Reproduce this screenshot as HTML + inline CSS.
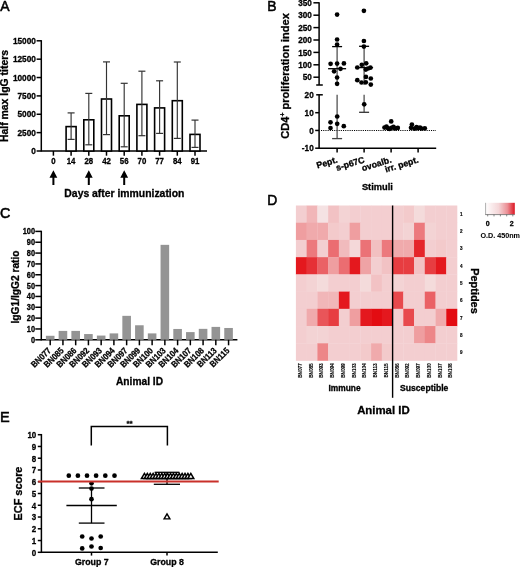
<!DOCTYPE html>
<html><head><meta charset="utf-8"><style>
html,body{margin:0;padding:0;background:#fff;}
body{width:520px;height:567px;overflow:hidden;}
svg{display:block;font-family:"Liberation Sans", sans-serif;filter:blur(0.4px);}
</style></head><body>
<svg width="520" height="567" viewBox="0 0 520 567">
<rect x="0" y="0" width="520" height="567" fill="#fff"/>
<text transform="translate(0.2 10.6) scale(0.93 1)" font-size="15" fill="#000" stroke="#000" stroke-width="0.55">A</text>
<text transform="translate(267.2 10.8) scale(0.93 1)" font-size="15" fill="#000" stroke="#000" stroke-width="0.55">B</text>
<text transform="translate(-0.1 218.4) scale(0.93 1)" font-size="15.4" fill="#000" stroke="#000" stroke-width="0.55">C</text>
<text transform="translate(267.3 204.5) scale(0.97 1)" font-size="14.3" fill="#000" stroke="#000" stroke-width="0.55">D</text>
<text transform="translate(0 422.1) scale(0.97 1)" font-size="15" fill="#000" stroke="#000" stroke-width="0.55">E</text>
<line x1="41.3" y1="40.15" x2="41.3" y2="151.65" stroke="#000" stroke-width="1.5" />
<line x1="36.6" y1="151" x2="41.3" y2="151" stroke="#000" stroke-width="1.5" />
<text transform="translate(35.9 154.1) scale(0.93 1)" font-size="8.9" text-anchor="end" font-weight="bold" fill="#000" stroke="#000" stroke-width="0.3">0</text>
<line x1="36.6" y1="132.63" x2="41.3" y2="132.63" stroke="#000" stroke-width="1.5" />
<text transform="translate(35.9 135.73) scale(0.93 1)" font-size="8.9" text-anchor="end" font-weight="bold" fill="#000" stroke="#000" stroke-width="0.3">2500</text>
<line x1="36.6" y1="114.27" x2="41.3" y2="114.27" stroke="#000" stroke-width="1.5" />
<text transform="translate(35.9 117.37) scale(0.93 1)" font-size="8.9" text-anchor="end" font-weight="bold" fill="#000" stroke="#000" stroke-width="0.3">5000</text>
<line x1="36.6" y1="95.9" x2="41.3" y2="95.9" stroke="#000" stroke-width="1.5" />
<text transform="translate(35.9 99) scale(0.93 1)" font-size="8.9" text-anchor="end" font-weight="bold" fill="#000" stroke="#000" stroke-width="0.3">7500</text>
<line x1="36.6" y1="77.53" x2="41.3" y2="77.53" stroke="#000" stroke-width="1.5" />
<text transform="translate(35.9 80.63) scale(0.93 1)" font-size="8.9" text-anchor="end" font-weight="bold" fill="#000" stroke="#000" stroke-width="0.3">10000</text>
<line x1="36.6" y1="59.17" x2="41.3" y2="59.17" stroke="#000" stroke-width="1.5" />
<text transform="translate(35.9 62.27) scale(0.93 1)" font-size="8.9" text-anchor="end" font-weight="bold" fill="#000" stroke="#000" stroke-width="0.3">12500</text>
<line x1="36.6" y1="40.8" x2="41.3" y2="40.8" stroke="#000" stroke-width="1.5" />
<text transform="translate(35.9 43.9) scale(0.93 1)" font-size="8.9" text-anchor="end" font-weight="bold" fill="#000" stroke="#000" stroke-width="0.3">15000</text>
<line x1="41.3" y1="151" x2="207" y2="151" stroke="#000" stroke-width="1.5" />
<line x1="53.4" y1="151" x2="53.4" y2="155.7" stroke="#000" stroke-width="1.5" />
<text transform="translate(53.4 163.7) scale(0.88 1)" font-size="8.9" text-anchor="middle" font-weight="bold" fill="#000" stroke="#000" stroke-width="0.3">0</text>
<line x1="71.1" y1="151" x2="71.1" y2="155.7" stroke="#000" stroke-width="1.5" />
<text transform="translate(71.1 163.7) scale(0.88 1)" font-size="8.9" text-anchor="middle" font-weight="bold" fill="#000" stroke="#000" stroke-width="0.3">14</text>
<line x1="88.8" y1="151" x2="88.8" y2="155.7" stroke="#000" stroke-width="1.5" />
<text transform="translate(88.8 163.7) scale(0.88 1)" font-size="8.9" text-anchor="middle" font-weight="bold" fill="#000" stroke="#000" stroke-width="0.3">28</text>
<line x1="106.5" y1="151" x2="106.5" y2="155.7" stroke="#000" stroke-width="1.5" />
<text transform="translate(106.5 163.7) scale(0.88 1)" font-size="8.9" text-anchor="middle" font-weight="bold" fill="#000" stroke="#000" stroke-width="0.3">42</text>
<line x1="124.2" y1="151" x2="124.2" y2="155.7" stroke="#000" stroke-width="1.5" />
<text transform="translate(124.2 163.7) scale(0.88 1)" font-size="8.9" text-anchor="middle" font-weight="bold" fill="#000" stroke="#000" stroke-width="0.3">56</text>
<line x1="141.9" y1="151" x2="141.9" y2="155.7" stroke="#000" stroke-width="1.5" />
<text transform="translate(141.9 163.7) scale(0.88 1)" font-size="8.9" text-anchor="middle" font-weight="bold" fill="#000" stroke="#000" stroke-width="0.3">70</text>
<line x1="159.6" y1="151" x2="159.6" y2="155.7" stroke="#000" stroke-width="1.5" />
<text transform="translate(159.6 163.7) scale(0.88 1)" font-size="8.9" text-anchor="middle" font-weight="bold" fill="#000" stroke="#000" stroke-width="0.3">77</text>
<line x1="177.3" y1="151" x2="177.3" y2="155.7" stroke="#000" stroke-width="1.5" />
<text transform="translate(177.3 163.7) scale(0.88 1)" font-size="8.9" text-anchor="middle" font-weight="bold" fill="#000" stroke="#000" stroke-width="0.3">84</text>
<line x1="195" y1="151" x2="195" y2="155.7" stroke="#000" stroke-width="1.5" />
<text transform="translate(195 163.7) scale(0.88 1)" font-size="8.9" text-anchor="middle" font-weight="bold" fill="#000" stroke="#000" stroke-width="0.3">91</text>
<rect x="66.1" y="126.6" width="10" height="24.4" fill="#fff" stroke="#000" stroke-width="1.6"/>
<rect x="83.8" y="119.8" width="10" height="31.2" fill="#fff" stroke="#000" stroke-width="1.6"/>
<rect x="101.5" y="99" width="10" height="52" fill="#fff" stroke="#000" stroke-width="1.6"/>
<rect x="119.2" y="115.8" width="10" height="35.2" fill="#fff" stroke="#000" stroke-width="1.6"/>
<rect x="136.9" y="104.4" width="10" height="46.6" fill="#fff" stroke="#000" stroke-width="1.6"/>
<rect x="154.6" y="107.9" width="10" height="43.1" fill="#fff" stroke="#000" stroke-width="1.6"/>
<rect x="172.3" y="100.7" width="10" height="50.3" fill="#fff" stroke="#000" stroke-width="1.6"/>
<rect x="190" y="134.4" width="10" height="16.6" fill="#fff" stroke="#000" stroke-width="1.6"/>
<line x1="71.1" y1="112.9" x2="71.1" y2="139.4" stroke="#333" stroke-width="1.15" />
<line x1="67.6" y1="112.9" x2="74.6" y2="112.9" stroke="#333" stroke-width="1.2" />
<line x1="67.6" y1="139.4" x2="74.6" y2="139.4" stroke="#333" stroke-width="1.2" />
<line x1="88.8" y1="93.4" x2="88.8" y2="144.8" stroke="#333" stroke-width="1.15" />
<line x1="85.3" y1="93.4" x2="92.3" y2="93.4" stroke="#333" stroke-width="1.2" />
<line x1="85.3" y1="144.8" x2="92.3" y2="144.8" stroke="#333" stroke-width="1.2" />
<line x1="106.5" y1="61.9" x2="106.5" y2="134.6" stroke="#333" stroke-width="1.15" />
<line x1="103" y1="61.9" x2="110" y2="61.9" stroke="#333" stroke-width="1.2" />
<line x1="103" y1="134.6" x2="110" y2="134.6" stroke="#333" stroke-width="1.2" />
<line x1="124.2" y1="83.3" x2="124.2" y2="146.8" stroke="#333" stroke-width="1.15" />
<line x1="120.7" y1="83.3" x2="127.7" y2="83.3" stroke="#333" stroke-width="1.2" />
<line x1="120.7" y1="146.8" x2="127.7" y2="146.8" stroke="#333" stroke-width="1.2" />
<line x1="141.9" y1="71.2" x2="141.9" y2="135.7" stroke="#333" stroke-width="1.15" />
<line x1="138.4" y1="71.2" x2="145.4" y2="71.2" stroke="#333" stroke-width="1.2" />
<line x1="138.4" y1="135.7" x2="145.4" y2="135.7" stroke="#333" stroke-width="1.2" />
<line x1="159.6" y1="80.8" x2="159.6" y2="133.4" stroke="#333" stroke-width="1.15" />
<line x1="156.1" y1="80.8" x2="163.1" y2="80.8" stroke="#333" stroke-width="1.2" />
<line x1="156.1" y1="133.4" x2="163.1" y2="133.4" stroke="#333" stroke-width="1.2" />
<line x1="177.3" y1="62" x2="177.3" y2="138.4" stroke="#333" stroke-width="1.15" />
<line x1="173.8" y1="62" x2="180.8" y2="62" stroke="#333" stroke-width="1.2" />
<line x1="173.8" y1="138.4" x2="180.8" y2="138.4" stroke="#333" stroke-width="1.2" />
<line x1="195" y1="120.1" x2="195" y2="147.4" stroke="#333" stroke-width="1.15" />
<line x1="191.5" y1="120.1" x2="198.5" y2="120.1" stroke="#333" stroke-width="1.2" />
<line x1="191.5" y1="147.4" x2="198.5" y2="147.4" stroke="#333" stroke-width="1.2" />
<path d="M53.4 170.3 L49.5 177.8 L52.4 177.8 L52.4 184.9 L54.4 184.9 L54.4 177.8 L57.3 177.8 Z" fill="#000"/>
<path d="M88.8 170.3 L84.9 177.8 L87.8 177.8 L87.8 184.9 L89.8 184.9 L89.8 177.8 L92.7 177.8 Z" fill="#000"/>
<path d="M124.2 170.3 L120.3 177.8 L123.2 177.8 L123.2 184.9 L125.2 184.9 L125.2 177.8 L128.1 177.8 Z" fill="#000"/>
<text x="124.4" y="196.9" font-size="10.4" text-anchor="middle" font-weight="bold" fill="#000" stroke="#000" stroke-width="0.3" >Days after immunization</text>
<text x="0" y="0" font-size="10.45" text-anchor="middle" font-weight="bold" fill="#000" stroke="#000" stroke-width="0.3" transform="translate(8.0 96.0) rotate(-90)">Half max IgG titers</text>
<line x1="319.1" y1="2.15" x2="319.1" y2="85" stroke="#000" stroke-width="1.5" />
<line x1="313.4" y1="77.2" x2="319.1" y2="77.2" stroke="#000" stroke-width="1.5" />
<text transform="translate(311.9 80.3) scale(0.92 1)" font-size="8.9" text-anchor="end" font-weight="bold" fill="#000" stroke="#000" stroke-width="0.3">50</text>
<line x1="313.4" y1="64.8" x2="319.1" y2="64.8" stroke="#000" stroke-width="1.5" />
<text transform="translate(311.9 67.9) scale(0.92 1)" font-size="8.9" text-anchor="end" font-weight="bold" fill="#000" stroke="#000" stroke-width="0.3">100</text>
<line x1="313.4" y1="52.4" x2="319.1" y2="52.4" stroke="#000" stroke-width="1.5" />
<text transform="translate(311.9 55.5) scale(0.92 1)" font-size="8.9" text-anchor="end" font-weight="bold" fill="#000" stroke="#000" stroke-width="0.3">150</text>
<line x1="313.4" y1="40" x2="319.1" y2="40" stroke="#000" stroke-width="1.5" />
<text transform="translate(311.9 43.1) scale(0.92 1)" font-size="8.9" text-anchor="end" font-weight="bold" fill="#000" stroke="#000" stroke-width="0.3">200</text>
<line x1="313.4" y1="27.6" x2="319.1" y2="27.6" stroke="#000" stroke-width="1.5" />
<text transform="translate(311.9 30.7) scale(0.92 1)" font-size="8.9" text-anchor="end" font-weight="bold" fill="#000" stroke="#000" stroke-width="0.3">250</text>
<line x1="313.4" y1="15.2" x2="319.1" y2="15.2" stroke="#000" stroke-width="1.5" />
<text transform="translate(311.9 18.3) scale(0.92 1)" font-size="8.9" text-anchor="end" font-weight="bold" fill="#000" stroke="#000" stroke-width="0.3">300</text>
<line x1="313.4" y1="2.8" x2="319.1" y2="2.8" stroke="#000" stroke-width="1.5" />
<text transform="translate(311.9 5.9) scale(0.92 1)" font-size="8.9" text-anchor="end" font-weight="bold" fill="#000" stroke="#000" stroke-width="0.3">350</text>
<line x1="316.2" y1="85" x2="322.8" y2="85" stroke="#000" stroke-width="1.5" />
<line x1="319.1" y1="94.8" x2="319.1" y2="148.85" stroke="#000" stroke-width="1.5" />
<line x1="316.2" y1="94.8" x2="322.8" y2="94.8" stroke="#000" stroke-width="1.5" />
<text transform="translate(313.7 97.9) scale(0.92 1)" font-size="8.9" text-anchor="end" font-weight="bold" fill="#000" stroke="#000" stroke-width="0.3">20</text>
<line x1="315.2" y1="112.7" x2="319.1" y2="112.7" stroke="#000" stroke-width="1.5" />
<text transform="translate(313.7 115.8) scale(0.92 1)" font-size="8.9" text-anchor="end" font-weight="bold" fill="#000" stroke="#000" stroke-width="0.3">10</text>
<line x1="315.2" y1="130.45" x2="319.1" y2="130.45" stroke="#000" stroke-width="1.5" />
<text transform="translate(313.7 133.55) scale(0.92 1)" font-size="8.9" text-anchor="end" font-weight="bold" fill="#000" stroke="#000" stroke-width="0.3">0</text>
<line x1="315.2" y1="148.2" x2="319.1" y2="148.2" stroke="#000" stroke-width="1.5" />
<text transform="translate(313.7 151.3) scale(0.92 1)" font-size="8.9" text-anchor="end" font-weight="bold" fill="#000" stroke="#000" stroke-width="0.3">-10</text>
<line x1="319.1" y1="148.2" x2="436.2" y2="148.2" stroke="#000" stroke-width="1.5" />
<line x1="337.1" y1="148.2" x2="337.1" y2="152.6" stroke="#000" stroke-width="1.5" />
<line x1="364.1" y1="148.2" x2="364.1" y2="152.6" stroke="#000" stroke-width="1.5" />
<line x1="391.1" y1="148.2" x2="391.1" y2="152.6" stroke="#000" stroke-width="1.5" />
<line x1="418.1" y1="148.2" x2="418.1" y2="152.6" stroke="#000" stroke-width="1.5" />
<line x1="321" y1="130.45" x2="436" y2="130.45" stroke="#000" stroke-width="1.1" stroke-dasharray="1.1 1.1"/>
<line x1="337.1" y1="46.6" x2="337.1" y2="85" stroke="#444" stroke-width="1.2" />
<line x1="337.1" y1="94.8" x2="337.1" y2="138.6" stroke="#444" stroke-width="1.2" />
<line x1="332.1" y1="46.6" x2="342.1" y2="46.6" stroke="#000" stroke-width="1.3" />
<line x1="332.1" y1="138.6" x2="342.1" y2="138.6" stroke="#444" stroke-width="1.3" />
<line x1="328.1" y1="68.7" x2="346.1" y2="68.7" stroke="#000" stroke-width="1.3" />
<circle cx="337.1" cy="14.6" r="2.35" fill="#000"/>
<circle cx="337.1" cy="39.5" r="2.35" fill="#000"/>
<circle cx="337.1" cy="44.6" r="2.35" fill="#000"/>
<circle cx="330.6" cy="63.8" r="2.35" fill="#000"/>
<circle cx="337.1" cy="63.6" r="2.35" fill="#000"/>
<circle cx="343.9" cy="63.4" r="2.35" fill="#000"/>
<circle cx="340.5" cy="68.8" r="2.35" fill="#000"/>
<circle cx="334.1" cy="71.3" r="2.35" fill="#000"/>
<circle cx="337.1" cy="77.5" r="2.35" fill="#000"/>
<circle cx="337.1" cy="83.8" r="2.35" fill="#000"/>
<circle cx="337.2" cy="116.5" r="2.35" fill="#000"/>
<circle cx="330.5" cy="122.3" r="2.35" fill="#000"/>
<circle cx="337.2" cy="123.8" r="2.35" fill="#000"/>
<circle cx="343.8" cy="126.2" r="2.35" fill="#000"/>
<circle cx="330.5" cy="128" r="2.35" fill="#000"/>
<line x1="364.1" y1="46.3" x2="364.1" y2="85" stroke="#444" stroke-width="1.2" />
<line x1="364.1" y1="94.8" x2="364.1" y2="112.3" stroke="#444" stroke-width="1.2" />
<line x1="359.1" y1="46.3" x2="369.1" y2="46.3" stroke="#000" stroke-width="1.3" />
<line x1="359.1" y1="112.3" x2="369.1" y2="112.3" stroke="#333" stroke-width="1.3" />
<line x1="355.1" y1="67.6" x2="373.1" y2="67.6" stroke="#000" stroke-width="1.3" />
<circle cx="363.9" cy="10.8" r="2.35" fill="#000"/>
<circle cx="363.9" cy="41" r="2.35" fill="#000"/>
<circle cx="363.9" cy="46.6" r="2.35" fill="#000"/>
<circle cx="361.8" cy="64.8" r="2.35" fill="#000"/>
<circle cx="366.2" cy="63.3" r="2.35" fill="#000"/>
<circle cx="357.3" cy="67.5" r="2.35" fill="#000"/>
<circle cx="365.8" cy="69.6" r="2.35" fill="#000"/>
<circle cx="370.4" cy="67.7" r="2.35" fill="#000"/>
<circle cx="368" cy="68.5" r="2.35" fill="#000"/>
<circle cx="365.9" cy="76.9" r="2.35" fill="#000"/>
<circle cx="370.8" cy="78.5" r="2.35" fill="#000"/>
<circle cx="357.3" cy="80.2" r="2.35" fill="#000"/>
<circle cx="361.5" cy="82.5" r="2.35" fill="#000"/>
<circle cx="365.8" cy="82.3" r="2.35" fill="#000"/>
<circle cx="370.8" cy="84.6" r="2.35" fill="#000"/>
<circle cx="364.2" cy="104.3" r="2.35" fill="#000"/>
<circle cx="391.2" cy="121.4" r="2.35" fill="#000"/>
<circle cx="384.5" cy="127.6" r="2.35" fill="#000"/>
<circle cx="388" cy="128.3" r="2.35" fill="#000"/>
<circle cx="391.5" cy="127.8" r="2.35" fill="#000"/>
<circle cx="395" cy="128.4" r="2.35" fill="#000"/>
<circle cx="397.8" cy="127.9" r="2.35" fill="#000"/>
<circle cx="386.5" cy="126.6" r="2.35" fill="#000"/>
<circle cx="393.5" cy="126.8" r="2.35" fill="#000"/>
<circle cx="389.5" cy="129" r="2.35" fill="#000"/>
<circle cx="411.9" cy="124.6" r="2.35" fill="#000"/>
<circle cx="411" cy="127.8" r="2.35" fill="#000"/>
<circle cx="414.5" cy="128.6" r="2.35" fill="#000"/>
<circle cx="418" cy="128.2" r="2.35" fill="#000"/>
<circle cx="421.5" cy="128.5" r="2.35" fill="#000"/>
<circle cx="424.8" cy="128.3" r="2.35" fill="#000"/>
<circle cx="416.5" cy="127" r="2.35" fill="#000"/>
<circle cx="420" cy="127.5" r="2.35" fill="#000"/>
<text transform="translate(338.1 162.3) rotate(-17)" font-size="8.8" text-anchor="end" font-weight="bold" fill="#000" stroke="#000" stroke-width="0.3">Pept.</text>
<text transform="translate(365.1 162.3) rotate(-17)" font-size="8.8" text-anchor="end" font-weight="bold" fill="#000" stroke="#000" stroke-width="0.3">s-p67C</text>
<text transform="translate(392.1 162.3) rotate(-17)" font-size="8.8" text-anchor="end" font-weight="bold" fill="#000" stroke="#000" stroke-width="0.3">ovoalb.</text>
<text transform="translate(419.1 162.3) rotate(-17)" font-size="8.8" text-anchor="end" font-weight="bold" fill="#000" stroke="#000" stroke-width="0.3">irr. pept.</text>
<text x="377.4" y="189.8" font-size="9.3" text-anchor="middle" font-weight="bold" fill="#000" stroke="#000" stroke-width="0.3" >Stimuli</text>
<text x="0" y="0" font-size="11.05" text-anchor="middle" font-weight="bold" fill="#000" stroke="#000" stroke-width="0.3" transform="translate(289.4 75.9) rotate(-90)">CD4<tspan font-size="6.8" dy="-4.4">+</tspan><tspan dy="4.4"> proliferation index</tspan></text>
<line x1="41.3" y1="230.75" x2="41.3" y2="340.45" stroke="#000" stroke-width="1.5" />
<line x1="35.3" y1="339.8" x2="41.3" y2="339.8" stroke="#000" stroke-width="1.5" />
<text transform="translate(35 342.7) scale(0.9 1)" font-size="8.2" text-anchor="end" font-weight="bold" fill="#000" stroke="#000" stroke-width="0.3">0</text>
<line x1="35.3" y1="328.96" x2="41.3" y2="328.96" stroke="#000" stroke-width="1.5" />
<text transform="translate(35 331.86) scale(0.9 1)" font-size="8.2" text-anchor="end" font-weight="bold" fill="#000" stroke="#000" stroke-width="0.3">10</text>
<line x1="35.3" y1="318.12" x2="41.3" y2="318.12" stroke="#000" stroke-width="1.5" />
<text transform="translate(35 321.02) scale(0.9 1)" font-size="8.2" text-anchor="end" font-weight="bold" fill="#000" stroke="#000" stroke-width="0.3">20</text>
<line x1="35.3" y1="307.28" x2="41.3" y2="307.28" stroke="#000" stroke-width="1.5" />
<text transform="translate(35 310.18) scale(0.9 1)" font-size="8.2" text-anchor="end" font-weight="bold" fill="#000" stroke="#000" stroke-width="0.3">30</text>
<line x1="35.3" y1="296.44" x2="41.3" y2="296.44" stroke="#000" stroke-width="1.5" />
<text transform="translate(35 299.34) scale(0.9 1)" font-size="8.2" text-anchor="end" font-weight="bold" fill="#000" stroke="#000" stroke-width="0.3">40</text>
<line x1="35.3" y1="285.6" x2="41.3" y2="285.6" stroke="#000" stroke-width="1.5" />
<text transform="translate(35 288.5) scale(0.9 1)" font-size="8.2" text-anchor="end" font-weight="bold" fill="#000" stroke="#000" stroke-width="0.3">50</text>
<line x1="35.3" y1="274.76" x2="41.3" y2="274.76" stroke="#000" stroke-width="1.5" />
<text transform="translate(35 277.66) scale(0.9 1)" font-size="8.2" text-anchor="end" font-weight="bold" fill="#000" stroke="#000" stroke-width="0.3">60</text>
<line x1="35.3" y1="263.92" x2="41.3" y2="263.92" stroke="#000" stroke-width="1.5" />
<text transform="translate(35 266.82) scale(0.9 1)" font-size="8.2" text-anchor="end" font-weight="bold" fill="#000" stroke="#000" stroke-width="0.3">70</text>
<line x1="35.3" y1="253.08" x2="41.3" y2="253.08" stroke="#000" stroke-width="1.5" />
<text transform="translate(35 255.98) scale(0.9 1)" font-size="8.2" text-anchor="end" font-weight="bold" fill="#000" stroke="#000" stroke-width="0.3">80</text>
<line x1="35.3" y1="242.24" x2="41.3" y2="242.24" stroke="#000" stroke-width="1.5" />
<text transform="translate(35 245.14) scale(0.9 1)" font-size="8.2" text-anchor="end" font-weight="bold" fill="#000" stroke="#000" stroke-width="0.3">90</text>
<line x1="35.3" y1="231.4" x2="41.3" y2="231.4" stroke="#000" stroke-width="1.5" />
<text transform="translate(35 234.3) scale(0.9 1)" font-size="8.2" text-anchor="end" font-weight="bold" fill="#000" stroke="#000" stroke-width="0.3">100</text>
<line x1="41.3" y1="339.8" x2="237.4" y2="339.8" stroke="#000" stroke-width="1.5" />
<rect x="45.9" y="335.79" width="8.6" height="4.01" fill="#949494"/>
<line x1="50.2" y1="339.8" x2="50.2" y2="345.3" stroke="#000" stroke-width="1.5" />
<text transform="translate(51.6 351.1) rotate(-45) scale(0.88 1)" font-size="8.8" text-anchor="end" font-weight="bold" fill="#000" stroke="#000" stroke-width="0.3">BN077</text>
<rect x="58.64" y="330.91" width="8.6" height="8.89" fill="#949494"/>
<line x1="62.94" y1="339.8" x2="62.94" y2="345.3" stroke="#000" stroke-width="1.5" />
<text transform="translate(64.34 351.1) rotate(-45) scale(0.88 1)" font-size="8.8" text-anchor="end" font-weight="bold" fill="#000" stroke="#000" stroke-width="0.3">BN085</text>
<rect x="71.38" y="330.91" width="8.6" height="8.89" fill="#949494"/>
<line x1="75.68" y1="339.8" x2="75.68" y2="345.3" stroke="#000" stroke-width="1.5" />
<text transform="translate(77.08 351.1) rotate(-45) scale(0.88 1)" font-size="8.8" text-anchor="end" font-weight="bold" fill="#000" stroke="#000" stroke-width="0.3">BN086</text>
<rect x="84.12" y="334.05" width="8.6" height="5.75" fill="#949494"/>
<line x1="88.42" y1="339.8" x2="88.42" y2="345.3" stroke="#000" stroke-width="1.5" />
<text transform="translate(89.82 351.1) rotate(-45) scale(0.88 1)" font-size="8.8" text-anchor="end" font-weight="bold" fill="#000" stroke="#000" stroke-width="0.3">BN092</text>
<rect x="96.86" y="335.57" width="8.6" height="4.23" fill="#949494"/>
<line x1="101.16" y1="339.8" x2="101.16" y2="345.3" stroke="#000" stroke-width="1.5" />
<text transform="translate(102.56 351.1) rotate(-45) scale(0.88 1)" font-size="8.8" text-anchor="end" font-weight="bold" fill="#000" stroke="#000" stroke-width="0.3">BN093</text>
<rect x="109.6" y="333.4" width="8.6" height="6.4" fill="#949494"/>
<line x1="113.9" y1="339.8" x2="113.9" y2="345.3" stroke="#000" stroke-width="1.5" />
<text transform="translate(115.3 351.1) rotate(-45) scale(0.88 1)" font-size="8.8" text-anchor="end" font-weight="bold" fill="#000" stroke="#000" stroke-width="0.3">BN094</text>
<rect x="122.34" y="315.84" width="8.6" height="23.96" fill="#949494"/>
<line x1="126.64" y1="339.8" x2="126.64" y2="345.3" stroke="#000" stroke-width="1.5" />
<text transform="translate(128.04 351.1) rotate(-45) scale(0.88 1)" font-size="8.8" text-anchor="end" font-weight="bold" fill="#000" stroke="#000" stroke-width="0.3">BN097</text>
<rect x="135.08" y="325.27" width="8.6" height="14.53" fill="#949494"/>
<line x1="139.38" y1="339.8" x2="139.38" y2="345.3" stroke="#000" stroke-width="1.5" />
<text transform="translate(140.78 351.1) rotate(-45) scale(0.88 1)" font-size="8.8" text-anchor="end" font-weight="bold" fill="#000" stroke="#000" stroke-width="0.3">BN099</text>
<rect x="147.82" y="333.4" width="8.6" height="6.4" fill="#949494"/>
<line x1="152.12" y1="339.8" x2="152.12" y2="345.3" stroke="#000" stroke-width="1.5" />
<text transform="translate(153.52 351.1) rotate(-45) scale(0.88 1)" font-size="8.8" text-anchor="end" font-weight="bold" fill="#000" stroke="#000" stroke-width="0.3">BN100</text>
<rect x="160.56" y="244.84" width="8.6" height="94.96" fill="#949494"/>
<line x1="164.86" y1="339.8" x2="164.86" y2="345.3" stroke="#000" stroke-width="1.5" />
<text transform="translate(166.26 351.1) rotate(-45) scale(0.88 1)" font-size="8.8" text-anchor="end" font-weight="bold" fill="#000" stroke="#000" stroke-width="0.3">BN103</text>
<rect x="173.3" y="328.96" width="8.6" height="10.84" fill="#949494"/>
<line x1="177.6" y1="339.8" x2="177.6" y2="345.3" stroke="#000" stroke-width="1.5" />
<text transform="translate(179 351.1) rotate(-45) scale(0.88 1)" font-size="8.8" text-anchor="end" font-weight="bold" fill="#000" stroke="#000" stroke-width="0.3">BN104</text>
<rect x="186.04" y="332.1" width="8.6" height="7.7" fill="#949494"/>
<line x1="190.34" y1="339.8" x2="190.34" y2="345.3" stroke="#000" stroke-width="1.5" />
<text transform="translate(191.74 351.1) rotate(-45) scale(0.88 1)" font-size="8.8" text-anchor="end" font-weight="bold" fill="#000" stroke="#000" stroke-width="0.3">BN107</text>
<rect x="198.78" y="328.85" width="8.6" height="10.95" fill="#949494"/>
<line x1="203.08" y1="339.8" x2="203.08" y2="345.3" stroke="#000" stroke-width="1.5" />
<text transform="translate(204.48 351.1) rotate(-45) scale(0.88 1)" font-size="8.8" text-anchor="end" font-weight="bold" fill="#000" stroke="#000" stroke-width="0.3">BN108</text>
<rect x="211.52" y="326.9" width="8.6" height="12.9" fill="#949494"/>
<line x1="215.82" y1="339.8" x2="215.82" y2="345.3" stroke="#000" stroke-width="1.5" />
<text transform="translate(217.22 351.1) rotate(-45) scale(0.88 1)" font-size="8.8" text-anchor="end" font-weight="bold" fill="#000" stroke="#000" stroke-width="0.3">BN113</text>
<rect x="224.26" y="327.98" width="8.6" height="11.82" fill="#949494"/>
<line x1="228.56" y1="339.8" x2="228.56" y2="345.3" stroke="#000" stroke-width="1.5" />
<text transform="translate(229.96 351.1) rotate(-45) scale(0.88 1)" font-size="8.8" text-anchor="end" font-weight="bold" fill="#000" stroke="#000" stroke-width="0.3">BN115</text>
<text x="139.5" y="384.6" font-size="10.2" text-anchor="middle" font-weight="bold" fill="#000" stroke="#000" stroke-width="0.3" >Animal ID</text>
<text x="0" y="0" font-size="10.2" text-anchor="middle" font-weight="bold" fill="#000" stroke="#000" stroke-width="0.3" transform="translate(19.0 287.0) rotate(-90)">IgG1/IgG2 ratio</text>
<rect x="295.9" y="205.5" width="11.04" height="17.52" fill="#f3ced0"/>
<rect x="306.64" y="205.5" width="11.04" height="17.52" fill="#f1b6b8"/>
<rect x="317.38" y="205.5" width="11.04" height="17.52" fill="#f5e2e3"/>
<rect x="328.12" y="205.5" width="11.04" height="17.52" fill="#f2c2c4"/>
<rect x="338.86" y="205.5" width="11.04" height="17.52" fill="#f3d3d4"/>
<rect x="349.6" y="205.5" width="11.04" height="17.52" fill="#f3ced0"/>
<rect x="360.34" y="205.5" width="11.04" height="17.52" fill="#f3ced0"/>
<rect x="371.08" y="205.5" width="11.04" height="17.52" fill="#f3ced0"/>
<rect x="381.82" y="205.5" width="11.04" height="17.52" fill="#f3ced0"/>
<rect x="392.56" y="205.5" width="11.04" height="17.52" fill="#f3ced0"/>
<rect x="403.3" y="205.5" width="11.04" height="17.52" fill="#f3cacb"/>
<rect x="414.04" y="205.5" width="11.04" height="17.52" fill="#f4dbdb"/>
<rect x="424.78" y="205.5" width="11.04" height="17.52" fill="#f3ced0"/>
<rect x="435.52" y="205.5" width="11.04" height="17.52" fill="#f3ced0"/>
<rect x="446.26" y="205.5" width="11.04" height="17.52" fill="#f3ced0"/>
<rect x="295.9" y="222.72" width="11.04" height="17.52" fill="#ef9ea0"/>
<rect x="306.64" y="222.72" width="11.04" height="17.52" fill="#f0aaac"/>
<rect x="317.38" y="222.72" width="11.04" height="17.52" fill="#f0aaac"/>
<rect x="328.12" y="222.72" width="11.04" height="17.52" fill="#f3cacb"/>
<rect x="338.86" y="222.72" width="11.04" height="17.52" fill="#f3ced0"/>
<rect x="349.6" y="222.72" width="11.04" height="17.52" fill="#ef9ea0"/>
<rect x="360.34" y="222.72" width="11.04" height="17.52" fill="#f3ced0"/>
<rect x="371.08" y="222.72" width="11.04" height="17.52" fill="#f3ced0"/>
<rect x="381.82" y="222.72" width="11.04" height="17.52" fill="#f3ced0"/>
<rect x="392.56" y="222.72" width="11.04" height="17.52" fill="#f3ced0"/>
<rect x="403.3" y="222.72" width="11.04" height="17.52" fill="#f3d3d4"/>
<rect x="414.04" y="222.72" width="11.04" height="17.52" fill="#ec797d"/>
<rect x="424.78" y="222.72" width="11.04" height="17.52" fill="#f3d3d4"/>
<rect x="435.52" y="222.72" width="11.04" height="17.52" fill="#f3ced0"/>
<rect x="446.26" y="222.72" width="11.04" height="17.52" fill="#f3ced0"/>
<rect x="295.9" y="239.94" width="11.04" height="17.52" fill="#f3ced0"/>
<rect x="306.64" y="239.94" width="11.04" height="17.52" fill="#ec797d"/>
<rect x="317.38" y="239.94" width="11.04" height="17.52" fill="#f3ced0"/>
<rect x="328.12" y="239.94" width="11.04" height="17.52" fill="#eb6d71"/>
<rect x="338.86" y="239.94" width="11.04" height="17.52" fill="#f1bbbd"/>
<rect x="349.6" y="239.94" width="11.04" height="17.52" fill="#f4d8d9"/>
<rect x="360.34" y="239.94" width="11.04" height="17.52" fill="#eb7276"/>
<rect x="371.08" y="239.94" width="11.04" height="17.52" fill="#f2c0c1"/>
<rect x="381.82" y="239.94" width="11.04" height="17.52" fill="#ec797d"/>
<rect x="392.56" y="239.94" width="11.04" height="17.52" fill="#f0aaac"/>
<rect x="403.3" y="239.94" width="11.04" height="17.52" fill="#f0aaac"/>
<rect x="414.04" y="239.94" width="11.04" height="17.52" fill="#e5242a"/>
<rect x="424.78" y="239.94" width="11.04" height="17.52" fill="#f3ced0"/>
<rect x="435.52" y="239.94" width="11.04" height="17.52" fill="#f3cacb"/>
<rect x="446.26" y="239.94" width="11.04" height="17.52" fill="#f3ced0"/>
<rect x="295.9" y="257.16" width="11.04" height="17.52" fill="#e4181e"/>
<rect x="306.64" y="257.16" width="11.04" height="17.52" fill="#e63036"/>
<rect x="317.38" y="257.16" width="11.04" height="17.52" fill="#ea6165"/>
<rect x="328.12" y="257.16" width="11.04" height="17.52" fill="#ef9ea0"/>
<rect x="338.86" y="257.16" width="11.04" height="17.52" fill="#eb6d71"/>
<rect x="349.6" y="257.16" width="11.04" height="17.52" fill="#e4181e"/>
<rect x="360.34" y="257.16" width="11.04" height="17.52" fill="#efa3a5"/>
<rect x="371.08" y="257.16" width="11.04" height="17.52" fill="#f3ced0"/>
<rect x="381.82" y="257.16" width="11.04" height="17.52" fill="#f2c2c4"/>
<rect x="392.56" y="257.16" width="11.04" height="17.52" fill="#e73d41"/>
<rect x="403.3" y="257.16" width="11.04" height="17.52" fill="#e73d41"/>
<rect x="414.04" y="257.16" width="11.04" height="17.52" fill="#f2c2c4"/>
<rect x="424.78" y="257.16" width="11.04" height="17.52" fill="#e73d41"/>
<rect x="435.52" y="257.16" width="11.04" height="17.52" fill="#e4181e"/>
<rect x="446.26" y="257.16" width="11.04" height="17.52" fill="#f3ced0"/>
<rect x="295.9" y="274.38" width="11.04" height="17.52" fill="#f3ced0"/>
<rect x="306.64" y="274.38" width="11.04" height="17.52" fill="#f3d3d4"/>
<rect x="317.38" y="274.38" width="11.04" height="17.52" fill="#f4dbdb"/>
<rect x="328.12" y="274.38" width="11.04" height="17.52" fill="#f3ced0"/>
<rect x="338.86" y="274.38" width="11.04" height="17.52" fill="#f3ced0"/>
<rect x="349.6" y="274.38" width="11.04" height="17.52" fill="#f3ced0"/>
<rect x="360.34" y="274.38" width="11.04" height="17.52" fill="#f4dbdb"/>
<rect x="371.08" y="274.38" width="11.04" height="17.52" fill="#f2c2c4"/>
<rect x="381.82" y="274.38" width="11.04" height="17.52" fill="#f3ced0"/>
<rect x="392.56" y="274.38" width="11.04" height="17.52" fill="#f3d3d4"/>
<rect x="403.3" y="274.38" width="11.04" height="17.52" fill="#f3ced0"/>
<rect x="414.04" y="274.38" width="11.04" height="17.52" fill="#f3ced0"/>
<rect x="424.78" y="274.38" width="11.04" height="17.52" fill="#f4dbdb"/>
<rect x="435.52" y="274.38" width="11.04" height="17.52" fill="#f3ced0"/>
<rect x="446.26" y="274.38" width="11.04" height="17.52" fill="#f3ced0"/>
<rect x="295.9" y="291.6" width="11.04" height="17.52" fill="#f3ced0"/>
<rect x="306.64" y="291.6" width="11.04" height="17.52" fill="#f3ced0"/>
<rect x="317.38" y="291.6" width="11.04" height="17.52" fill="#f1b6b8"/>
<rect x="328.12" y="291.6" width="11.04" height="17.52" fill="#f1b6b8"/>
<rect x="338.86" y="291.6" width="11.04" height="17.52" fill="#e4181e"/>
<rect x="349.6" y="291.6" width="11.04" height="17.52" fill="#f3ced0"/>
<rect x="360.34" y="291.6" width="11.04" height="17.52" fill="#f3ced0"/>
<rect x="371.08" y="291.6" width="11.04" height="17.52" fill="#f3ced0"/>
<rect x="381.82" y="291.6" width="11.04" height="17.52" fill="#f3ced0"/>
<rect x="392.56" y="291.6" width="11.04" height="17.52" fill="#e8494d"/>
<rect x="403.3" y="291.6" width="11.04" height="17.52" fill="#f3ced0"/>
<rect x="414.04" y="291.6" width="11.04" height="17.52" fill="#f3ced0"/>
<rect x="424.78" y="291.6" width="11.04" height="17.52" fill="#ea6165"/>
<rect x="435.52" y="291.6" width="11.04" height="17.52" fill="#f3ced0"/>
<rect x="446.26" y="291.6" width="11.04" height="17.52" fill="#f3ced0"/>
<rect x="295.9" y="308.82" width="11.04" height="17.52" fill="#f3ced0"/>
<rect x="306.64" y="308.82" width="11.04" height="17.52" fill="#f0aaac"/>
<rect x="317.38" y="308.82" width="11.04" height="17.52" fill="#e95559"/>
<rect x="328.12" y="308.82" width="11.04" height="17.52" fill="#e73d41"/>
<rect x="338.86" y="308.82" width="11.04" height="17.52" fill="#f3ced0"/>
<rect x="349.6" y="308.82" width="11.04" height="17.52" fill="#ef9ea0"/>
<rect x="360.34" y="308.82" width="11.04" height="17.52" fill="#e4181e"/>
<rect x="371.08" y="308.82" width="11.04" height="17.52" fill="#e30c12"/>
<rect x="381.82" y="308.82" width="11.04" height="17.52" fill="#e4181e"/>
<rect x="392.56" y="308.82" width="11.04" height="17.52" fill="#f3ced0"/>
<rect x="403.3" y="308.82" width="11.04" height="17.52" fill="#e8494d"/>
<rect x="414.04" y="308.82" width="11.04" height="17.52" fill="#f3ced0"/>
<rect x="424.78" y="308.82" width="11.04" height="17.52" fill="#f3ced0"/>
<rect x="435.52" y="308.82" width="11.04" height="17.52" fill="#f0aaac"/>
<rect x="446.26" y="308.82" width="11.04" height="17.52" fill="#e30c12"/>
<rect x="295.9" y="326.04" width="11.04" height="17.52" fill="#f3ced0"/>
<rect x="306.64" y="326.04" width="11.04" height="17.52" fill="#f3d3d4"/>
<rect x="317.38" y="326.04" width="11.04" height="17.52" fill="#f3d3d4"/>
<rect x="328.12" y="326.04" width="11.04" height="17.52" fill="#f3ced0"/>
<rect x="338.86" y="326.04" width="11.04" height="17.52" fill="#f3ced0"/>
<rect x="349.6" y="326.04" width="11.04" height="17.52" fill="#f3ced0"/>
<rect x="360.34" y="326.04" width="11.04" height="17.52" fill="#f3ced0"/>
<rect x="371.08" y="326.04" width="11.04" height="17.52" fill="#f3ced0"/>
<rect x="381.82" y="326.04" width="11.04" height="17.52" fill="#f3ced0"/>
<rect x="392.56" y="326.04" width="11.04" height="17.52" fill="#f3ced0"/>
<rect x="403.3" y="326.04" width="11.04" height="17.52" fill="#f3ced0"/>
<rect x="414.04" y="326.04" width="11.04" height="17.52" fill="#ef9ea0"/>
<rect x="424.78" y="326.04" width="11.04" height="17.52" fill="#ed8688"/>
<rect x="435.52" y="326.04" width="11.04" height="17.52" fill="#f3ced0"/>
<rect x="446.26" y="326.04" width="11.04" height="17.52" fill="#f3ced0"/>
<rect x="295.9" y="343.26" width="11.04" height="17.52" fill="#f3ced0"/>
<rect x="306.64" y="343.26" width="11.04" height="17.52" fill="#f3ced0"/>
<rect x="317.38" y="343.26" width="11.04" height="17.52" fill="#ed8688"/>
<rect x="328.12" y="343.26" width="11.04" height="17.52" fill="#f3ced0"/>
<rect x="338.86" y="343.26" width="11.04" height="17.52" fill="#f3ced0"/>
<rect x="349.6" y="343.26" width="11.04" height="17.52" fill="#f3ced0"/>
<rect x="360.34" y="343.26" width="11.04" height="17.52" fill="#f3cacb"/>
<rect x="371.08" y="343.26" width="11.04" height="17.52" fill="#f0aaac"/>
<rect x="381.82" y="343.26" width="11.04" height="17.52" fill="#f3cacb"/>
<rect x="392.56" y="343.26" width="11.04" height="17.52" fill="#f3ced0"/>
<rect x="403.3" y="343.26" width="11.04" height="17.52" fill="#f3ced0"/>
<rect x="414.04" y="343.26" width="11.04" height="17.52" fill="#f3ced0"/>
<rect x="424.78" y="343.26" width="11.04" height="17.52" fill="#f3ced0"/>
<rect x="435.52" y="343.26" width="11.04" height="17.52" fill="#f3ced0"/>
<rect x="446.26" y="343.26" width="11.04" height="17.52" fill="#f3ced0"/>
<line x1="392.6" y1="205.5" x2="392.6" y2="397.8" stroke="#000" stroke-width="1.4" />
<text transform="translate(461.2 215.7) scale(0.9 1)" font-size="5.1" text-anchor="middle" font-weight="bold" fill="#000" stroke="#000" stroke-width="0.15">1</text>
<text transform="translate(461.2 233.03) scale(0.9 1)" font-size="5.1" text-anchor="middle" font-weight="bold" fill="#000" stroke="#000" stroke-width="0.15">2</text>
<text transform="translate(461.2 250.36) scale(0.9 1)" font-size="5.1" text-anchor="middle" font-weight="bold" fill="#000" stroke="#000" stroke-width="0.15">3</text>
<text transform="translate(461.2 267.69) scale(0.9 1)" font-size="5.1" text-anchor="middle" font-weight="bold" fill="#000" stroke="#000" stroke-width="0.15">4</text>
<text transform="translate(461.2 285.02) scale(0.9 1)" font-size="5.1" text-anchor="middle" font-weight="bold" fill="#000" stroke="#000" stroke-width="0.15">5</text>
<text transform="translate(461.2 302.35) scale(0.9 1)" font-size="5.1" text-anchor="middle" font-weight="bold" fill="#000" stroke="#000" stroke-width="0.15">6</text>
<text transform="translate(461.2 319.68) scale(0.9 1)" font-size="5.1" text-anchor="middle" font-weight="bold" fill="#000" stroke="#000" stroke-width="0.15">7</text>
<text transform="translate(461.2 337.01) scale(0.9 1)" font-size="5.1" text-anchor="middle" font-weight="bold" fill="#000" stroke="#000" stroke-width="0.15">8</text>
<text transform="translate(461.2 354.34) scale(0.9 1)" font-size="5.1" text-anchor="middle" font-weight="bold" fill="#000" stroke="#000" stroke-width="0.15">9</text>
<text transform="translate(301.97 363.3) rotate(-90) scale(0.78 1)" font-size="6" text-anchor="end" font-weight="bold" fill="#000" stroke="#000" stroke-width="0.1">BN077</text>
<text transform="translate(312.71 363.3) rotate(-90) scale(0.78 1)" font-size="6" text-anchor="end" font-weight="bold" fill="#000" stroke="#000" stroke-width="0.1">BN085</text>
<text transform="translate(323.45 363.3) rotate(-90) scale(0.78 1)" font-size="6" text-anchor="end" font-weight="bold" fill="#000" stroke="#000" stroke-width="0.1">BN093</text>
<text transform="translate(334.19 363.3) rotate(-90) scale(0.78 1)" font-size="6" text-anchor="end" font-weight="bold" fill="#000" stroke="#000" stroke-width="0.1">BN094</text>
<text transform="translate(344.93 363.3) rotate(-90) scale(0.78 1)" font-size="6" text-anchor="end" font-weight="bold" fill="#000" stroke="#000" stroke-width="0.1">BN099</text>
<text transform="translate(355.67 363.3) rotate(-90) scale(0.78 1)" font-size="6" text-anchor="end" font-weight="bold" fill="#000" stroke="#000" stroke-width="0.1">BN103</text>
<text transform="translate(366.41 363.3) rotate(-90) scale(0.78 1)" font-size="6" text-anchor="end" font-weight="bold" fill="#000" stroke="#000" stroke-width="0.1">BN104</text>
<text transform="translate(377.15 363.3) rotate(-90) scale(0.78 1)" font-size="6" text-anchor="end" font-weight="bold" fill="#000" stroke="#000" stroke-width="0.1">BN113</text>
<text transform="translate(387.89 363.3) rotate(-90) scale(0.78 1)" font-size="6" text-anchor="end" font-weight="bold" fill="#000" stroke="#000" stroke-width="0.1">BN115</text>
<text transform="translate(398.63 363.3) rotate(-90) scale(0.78 1)" font-size="6" text-anchor="end" font-weight="bold" fill="#000" stroke="#000" stroke-width="0.1">BN086</text>
<text transform="translate(409.37 363.3) rotate(-90) scale(0.78 1)" font-size="6" text-anchor="end" font-weight="bold" fill="#000" stroke="#000" stroke-width="0.1">BN092</text>
<text transform="translate(420.11 363.3) rotate(-90) scale(0.78 1)" font-size="6" text-anchor="end" font-weight="bold" fill="#000" stroke="#000" stroke-width="0.1">BN097</text>
<text transform="translate(430.85 363.3) rotate(-90) scale(0.78 1)" font-size="6" text-anchor="end" font-weight="bold" fill="#000" stroke="#000" stroke-width="0.1">BN100</text>
<text transform="translate(441.59 363.3) rotate(-90) scale(0.78 1)" font-size="6" text-anchor="end" font-weight="bold" fill="#000" stroke="#000" stroke-width="0.1">BN107</text>
<text transform="translate(452.33 363.3) rotate(-90) scale(0.78 1)" font-size="6" text-anchor="end" font-weight="bold" fill="#000" stroke="#000" stroke-width="0.1">BN108</text>
<text x="344.5" y="390.6" font-size="8.4" text-anchor="middle" font-weight="bold" fill="#000" stroke="#000" stroke-width="0.3" >Immune</text>
<text x="424.2" y="391" font-size="8.6" text-anchor="middle" font-weight="bold" fill="#000" stroke="#000" stroke-width="0.3" >Susceptible</text>
<text x="383.4" y="413.6" font-size="11.4" text-anchor="middle" font-weight="bold" fill="#000" stroke="#000" stroke-width="0.3" >Animal ID</text>
<text x="0" y="0" font-size="10.9" text-anchor="middle" font-weight="bold" fill="#000" stroke="#000" stroke-width="0.3" transform="translate(471.0 291.0) rotate(90)">Peptides</text>
<defs><linearGradient id="lg" x1="0" x2="1" y1="0" y2="0"><stop offset="0" stop-color="#ffffff"/><stop offset="0.45" stop-color="#f4d6d8"/><stop offset="0.75" stop-color="#eb8f95"/><stop offset="1" stop-color="#dc1522"/></linearGradient></defs>
<rect x="485.4" y="202.8" width="29.4" height="11.6" fill="url(#lg)"/>
<line x1="485.6" y1="202.8" x2="485.6" y2="214.8" stroke="#777" stroke-width="0.6" />
<line x1="485.4" y1="214.6" x2="514.8" y2="214.6" stroke="#555" stroke-width="0.7" />
<line x1="487.7" y1="214.6" x2="487.7" y2="216.4" stroke="#555" stroke-width="0.7" />
<line x1="494" y1="214.6" x2="494" y2="216.4" stroke="#555" stroke-width="0.7" />
<line x1="500.4" y1="214.6" x2="500.4" y2="216.4" stroke="#555" stroke-width="0.7" />
<line x1="506.7" y1="214.6" x2="506.7" y2="216.4" stroke="#555" stroke-width="0.7" />
<line x1="512.8" y1="214.6" x2="512.8" y2="216.4" stroke="#555" stroke-width="0.7" />
<text x="487.6" y="226.4" font-size="7" text-anchor="middle" font-weight="bold" fill="#000" stroke="#000" stroke-width="0.3" >0</text>
<text x="511.6" y="226.4" font-size="7" text-anchor="middle" font-weight="bold" fill="#000" stroke="#000" stroke-width="0.3" >2</text>
<text transform="translate(480.4 237.7)" font-size="7.2" text-anchor="start" font-weight="bold" fill="#000" stroke="#000" stroke-width="0.05">O.D. 450nm</text>
<line x1="41.4" y1="433.95" x2="41.4" y2="553.05" stroke="#000" stroke-width="1.5" />
<line x1="37.8" y1="552.3" x2="41.4" y2="552.3" stroke="#000" stroke-width="1.5" />
<text transform="translate(36.3 555.7) scale(0.86 1)" font-size="9.3" text-anchor="end" font-weight="bold" fill="#000" stroke="#000" stroke-width="0.3">0</text>
<line x1="37.8" y1="540.54" x2="41.4" y2="540.54" stroke="#000" stroke-width="1.5" />
<text transform="translate(36.3 543.94) scale(0.86 1)" font-size="9.3" text-anchor="end" font-weight="bold" fill="#000" stroke="#000" stroke-width="0.3">1</text>
<line x1="37.8" y1="528.78" x2="41.4" y2="528.78" stroke="#000" stroke-width="1.5" />
<text transform="translate(36.3 532.18) scale(0.86 1)" font-size="9.3" text-anchor="end" font-weight="bold" fill="#000" stroke="#000" stroke-width="0.3">2</text>
<line x1="37.8" y1="517.02" x2="41.4" y2="517.02" stroke="#000" stroke-width="1.5" />
<text transform="translate(36.3 520.42) scale(0.86 1)" font-size="9.3" text-anchor="end" font-weight="bold" fill="#000" stroke="#000" stroke-width="0.3">3</text>
<line x1="37.8" y1="505.26" x2="41.4" y2="505.26" stroke="#000" stroke-width="1.5" />
<text transform="translate(36.3 508.66) scale(0.86 1)" font-size="9.3" text-anchor="end" font-weight="bold" fill="#000" stroke="#000" stroke-width="0.3">4</text>
<line x1="37.8" y1="493.5" x2="41.4" y2="493.5" stroke="#000" stroke-width="1.5" />
<text transform="translate(36.3 496.9) scale(0.86 1)" font-size="9.3" text-anchor="end" font-weight="bold" fill="#000" stroke="#000" stroke-width="0.3">5</text>
<line x1="37.8" y1="481.74" x2="41.4" y2="481.74" stroke="#000" stroke-width="1.5" />
<text transform="translate(36.3 485.14) scale(0.86 1)" font-size="9.3" text-anchor="end" font-weight="bold" fill="#000" stroke="#000" stroke-width="0.3">6</text>
<line x1="37.8" y1="469.98" x2="41.4" y2="469.98" stroke="#000" stroke-width="1.5" />
<text transform="translate(36.3 473.38) scale(0.86 1)" font-size="9.3" text-anchor="end" font-weight="bold" fill="#000" stroke="#000" stroke-width="0.3">7</text>
<line x1="37.8" y1="458.22" x2="41.4" y2="458.22" stroke="#000" stroke-width="1.5" />
<text transform="translate(36.3 461.62) scale(0.86 1)" font-size="9.3" text-anchor="end" font-weight="bold" fill="#000" stroke="#000" stroke-width="0.3">8</text>
<line x1="37.8" y1="446.46" x2="41.4" y2="446.46" stroke="#000" stroke-width="1.5" />
<text transform="translate(36.3 449.86) scale(0.86 1)" font-size="9.3" text-anchor="end" font-weight="bold" fill="#000" stroke="#000" stroke-width="0.3">9</text>
<line x1="37.8" y1="434.7" x2="41.4" y2="434.7" stroke="#000" stroke-width="1.5" />
<text transform="translate(36.3 438.1) scale(0.86 1)" font-size="9.3" text-anchor="end" font-weight="bold" fill="#000" stroke="#000" stroke-width="0.3">10</text>
<line x1="41.4" y1="552.3" x2="217.8" y2="552.3" stroke="#000" stroke-width="1.5" />
<line x1="91.5" y1="552.3" x2="91.5" y2="555.6" stroke="#000" stroke-width="1.5" />
<line x1="167" y1="552.3" x2="167" y2="555.6" stroke="#000" stroke-width="1.5" />
<text x="91.8" y="564.8" font-size="8.8" text-anchor="middle" font-weight="bold" fill="#000" stroke="#000" stroke-width="0.3" >Group 7</text>
<text x="167" y="564.8" font-size="8.8" text-anchor="middle" font-weight="bold" fill="#000" stroke="#000" stroke-width="0.3" >Group 8</text>
<path d="M91.3 445.6 L91.3 426.6 L167.4 426.6 L167.4 445.6" fill="none" stroke="#000" stroke-width="1.5"/>
<text x="129.5" y="425.6" font-size="8" text-anchor="middle" font-weight="bold" fill="#000" stroke="#000" stroke-width="0.3" >**</text>
<text x="0" y="0" font-size="10.9" text-anchor="middle" font-weight="bold" fill="#000" stroke="#000" stroke-width="0.3" transform="translate(22.1 493.5) rotate(-90)">ECF score</text>
<line x1="91.5" y1="488" x2="91.5" y2="523.1" stroke="#000" stroke-width="1.3" />
<line x1="78.8" y1="488" x2="104.5" y2="488" stroke="#000" stroke-width="1.3" />
<line x1="78.8" y1="523.1" x2="104.5" y2="523.1" stroke="#000" stroke-width="1.3" />
<line x1="66.4" y1="505.5" x2="116.8" y2="505.5" stroke="#000" stroke-width="1.3" />
<circle cx="68.8" cy="475.7" r="2.35" fill="#000"/>
<circle cx="77.9" cy="475.7" r="2.35" fill="#000"/>
<circle cx="87" cy="475.7" r="2.35" fill="#000"/>
<circle cx="96.1" cy="475.7" r="2.35" fill="#000"/>
<circle cx="105.3" cy="475.7" r="2.35" fill="#000"/>
<circle cx="114.5" cy="475.7" r="2.35" fill="#000"/>
<circle cx="91.5" cy="483.3" r="2.35" fill="#000"/>
<circle cx="91.5" cy="488.6" r="2.35" fill="#000"/>
<circle cx="91.5" cy="499.2" r="2.35" fill="#000"/>
<circle cx="82.2" cy="536.5" r="2.35" fill="#000"/>
<circle cx="91.5" cy="538.5" r="2.35" fill="#000"/>
<circle cx="100.7" cy="536.5" r="2.35" fill="#000"/>
<circle cx="82.2" cy="548.4" r="2.35" fill="#000"/>
<circle cx="91.5" cy="546.5" r="2.35" fill="#000"/>
<circle cx="100.7" cy="548" r="2.35" fill="#000"/>
<line x1="167" y1="472.3" x2="167" y2="484.3" stroke="#000" stroke-width="1.3" />
<line x1="154.6" y1="472.3" x2="179.4" y2="472.3" stroke="#000" stroke-width="1.3" />
<line x1="153.8" y1="484.3" x2="180" y2="484.3" stroke="#000" stroke-width="1.3" />
<path d="M144.4 473.38 L147.4 478.57 L141.4 478.57 Z" fill="#fff" stroke="#000" stroke-width="1.5"/>
<path d="M147.3 473.38 L150.3 478.57 L144.3 478.57 Z" fill="#fff" stroke="#000" stroke-width="1.5"/>
<path d="M150.2 473.38 L153.2 478.57 L147.2 478.57 Z" fill="#fff" stroke="#000" stroke-width="1.5"/>
<path d="M153.1 473.38 L156.1 478.57 L150.1 478.57 Z" fill="#fff" stroke="#000" stroke-width="1.5"/>
<path d="M156 473.38 L159 478.57 L153 478.57 Z" fill="#fff" stroke="#000" stroke-width="1.5"/>
<path d="M158.9 473.38 L161.9 478.57 L155.9 478.57 Z" fill="#fff" stroke="#000" stroke-width="1.5"/>
<path d="M161.8 473.38 L164.8 478.57 L158.8 478.57 Z" fill="#fff" stroke="#000" stroke-width="1.5"/>
<path d="M164.7 473.38 L167.7 478.57 L161.7 478.57 Z" fill="#fff" stroke="#000" stroke-width="1.5"/>
<path d="M167.6 473.38 L170.6 478.57 L164.6 478.57 Z" fill="#fff" stroke="#000" stroke-width="1.5"/>
<path d="M170.5 473.38 L173.5 478.57 L167.5 478.57 Z" fill="#fff" stroke="#000" stroke-width="1.5"/>
<path d="M173.4 473.38 L176.4 478.57 L170.4 478.57 Z" fill="#fff" stroke="#000" stroke-width="1.5"/>
<path d="M176.3 473.38 L179.3 478.57 L173.3 478.57 Z" fill="#fff" stroke="#000" stroke-width="1.5"/>
<path d="M179.2 473.38 L182.2 478.57 L176.2 478.57 Z" fill="#fff" stroke="#000" stroke-width="1.5"/>
<path d="M182.1 473.38 L185.1 478.57 L179.1 478.57 Z" fill="#fff" stroke="#000" stroke-width="1.5"/>
<path d="M185 473.38 L188 478.57 L182 478.57 Z" fill="#fff" stroke="#000" stroke-width="1.5"/>
<path d="M187.9 473.38 L190.9 478.57 L184.9 478.57 Z" fill="#fff" stroke="#000" stroke-width="1.5"/>
<path d="M190.8 473.38 L193.8 478.57 L187.8 478.57 Z" fill="#fff" stroke="#000" stroke-width="1.5"/>
<path d="M167 513.89 L169.9 518.91 L164.1 518.91 Z" fill="#fff" stroke="#000" stroke-width="1.4"/>
<line x1="38.2" y1="481.4" x2="218.7" y2="481.4" stroke="#c9302a" stroke-width="2" />
</svg>
</body></html>
